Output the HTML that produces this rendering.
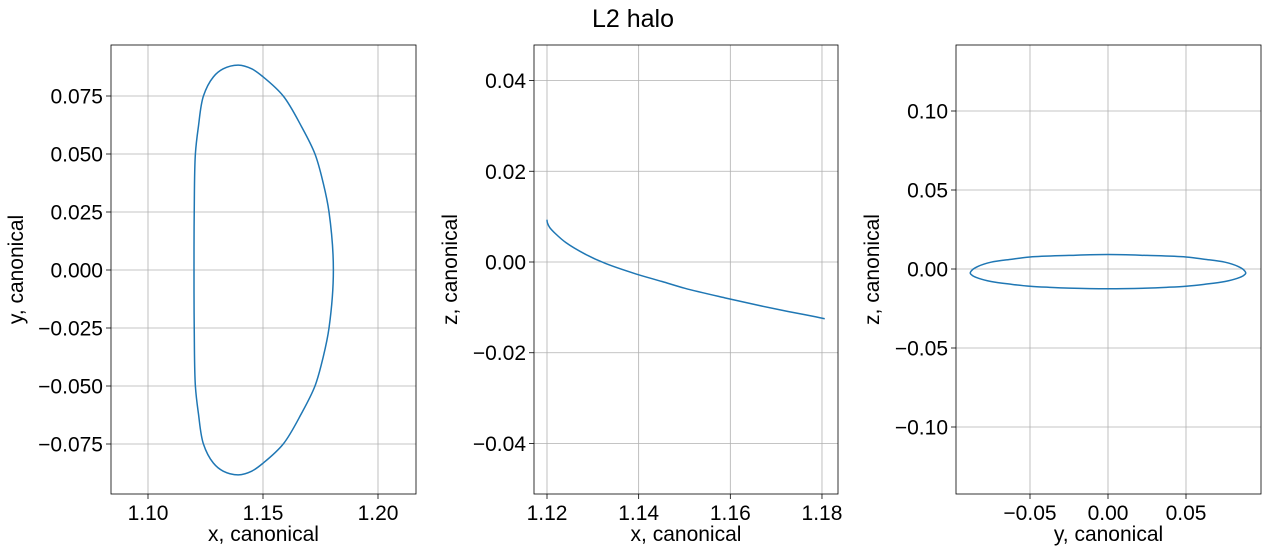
<!DOCTYPE html>
<html><head><meta charset="utf-8"><style>
body{margin:0;background:#fff;}
svg text{font-family:"Liberation Sans","DejaVu Sans",sans-serif;fill:#000;}
</style></head><body>
<svg id="fig" width="1267" height="551" xmlns="http://www.w3.org/2000/svg">
<rect width="1267" height="551" fill="#fff"/>
<text x="633" y="27" font-size="25" text-anchor="middle">L2 halo</text>
</svg>
<script>
// Orbit samples (canonical units)
const orbitX = [1.1806,1.1787,1.1762,1.1726,1.1668,1.1588,1.1501,1.1451,1.1393,1.1327,1.1284,1.1241,1.1219,1.1206,1.1201,1.1200,1.1201,1.1206,1.1219,1.1241,1.1284,1.1327,1.1393,1.1451,1.1501,1.1588,1.1668,1.1726,1.1762,1.1787];
const orbitY = [0,0.025,0.0374,0.050,0.0617,0.075,0.0832,0.0867,0.0883,0.0867,0.0832,0.075,0.0617,0.050,0.025,0,-0.025,-0.050,-0.0617,-0.075,-0.0832,-0.0867,-0.0883,-0.0867,-0.0832,-0.075,-0.0617,-0.050,-0.0374,-0.025];
const orbitZ = [-0.0125,-0.0121,-0.0116,-0.0109,-0.0097,-0.0079,-0.0058,-0.0043,-0.0026,-0.0003,0.0017,0.0043,0.0062,0.0076,0.0086,0.0092,0.0086,0.0076,0.0062,0.0043,0.0017,-0.0003,-0.0026,-0.0043,-0.0058,-0.0079,-0.0097,-0.0109,-0.0116,-0.0121];
const p1xTicks = [1.10,1.15,1.20];
const p1yTicks = [0.075,0.050,0.025,0.000,-0.025,-0.050,-0.075];
const p2xTicks = [1.12,1.14,1.16,1.18];
const p2yTicks = [0.04,0.02,0.00,-0.02,-0.04];
const p3xTicks = [-0.05,0.00,0.05];
const p3yTicks = [0.10,0.05,0.00,-0.05,-0.10];

const NS="http://www.w3.org/2000/svg";
const svg=document.getElementById('fig');
function mk(tag,attrs,parent){const e=document.createElementNS(NS,tag);for(const k in attrs)e.setAttribute(k,attrs[k]);(parent||svg).appendChild(e);return e;}
function fmt(v,d){const s=Math.abs(v).toFixed(d);return (v<-1e-12?'\u2212':'')+s;}

function panel(cfg){
  const g=mk('g',{});
  
  
  const {L,R,T,B}=cfg;
  const sx=v=>cfg.px0+(v-cfg.vx0)*cfg.kx;
  const sy=v=>cfg.py0-(v-cfg.vy0)*cfg.ky;
  cfg.xt.forEach(v=>{const x=sx(v);
    const l=mk('line',{x1:x,x2:x,y1:T,y2:B,stroke:'#b0b0b0','stroke-width':0.8},g);
    
    
    mk('line',{x1:x,x2:x,y1:B,y2:B+5,stroke:'#000','stroke-width':0.8},g);
    const t=mk('text',{x:x,y:B+26,'font-size':21,'text-anchor':'middle'},g);t.textContent=fmt(v,cfg.xd);
    
    
  });
  cfg.yt.forEach(v=>{const y=sy(v);
    const l=mk('line',{x1:L,x2:R,y1:y,y2:y,stroke:'#b0b0b0','stroke-width':0.8},g);
    
    
    mk('line',{x1:L-5,x2:L,y1:y,y2:y,stroke:'#000','stroke-width':0.8},g);
    const t=mk('text',{x:L-8,y:y+7.5,'font-size':21,'text-anchor':'end'},g);t.textContent=fmt(v,cfg.yd);
    
    
  });
  const pts=cfg.xs.map((v,i)=>[sx(v),sy(cfg.ys[i])]);
  const n=pts.length;let d='M'+pts[0][0]+','+pts[0][1];
  const dist=(a,b)=>Math.max(1e-3,Math.sqrt(Math.hypot(a[0]-b[0],a[1]-b[1])));
  for(let i=0;i<n;i++){const p0=pts[(i-1+n)%n],p1=pts[i],p2=pts[(i+1)%n],p3=pts[(i+2)%n];
    const d1=dist(p0,p1),d2=dist(p1,p2),d3=dist(p2,p3);
    const m1=[0,1].map(k=>(p1[k]-p0[k])/d1-(p2[k]-p0[k])/(d1+d2)+(p2[k]-p1[k])/d2);
    const m2=[0,1].map(k=>(p2[k]-p1[k])/d2-(p3[k]-p1[k])/(d2+d3)+(p3[k]-p2[k])/d3);
    const c1=[p1[0]+m1[0]*d2/3,p1[1]+m1[1]*d2/3], c2=[p2[0]-m2[0]*d2/3,p2[1]-m2[1]*d2/3];
    d+=' C'+c1[0]+','+c1[1]+' '+c2[0]+','+c2[1]+' '+p2[0]+','+p2[1];}
  const c=mk('path',{d:d,fill:'none',stroke:'#1f77b4','stroke-width':1.5,'stroke-linejoin':'round'},g);
  
  
  const fr=mk('rect',{x:L,y:T,width:R-L,height:B-T,fill:'none',stroke:'#000','stroke-width':0.8},g);
  
  
  const xl=mk('text',{x:(L+R)/2,y:541,'font-size':21,'text-anchor':'middle'},g);xl.textContent=cfg.xlab;
  
  
  const yx=cfg.ylx,yy=(T+B)/2;
  const yl=mk('text',{x:yx,y:yy,'font-size':21,'text-anchor':'middle',transform:`rotate(-90 ${yx} ${yy})`},g);yl.textContent=cfg.ylab;
  
  
}
panel({name:'xy-panel',L:111,R:416,T:45,B:494,px0:148,vx0:1.10,kx:2300,py0:270,vy0:0,ky:2320,
  xt:p1xTicks,yt:p1yTicks,xd:2,yd:3,xs:orbitX,ys:orbitY,xlab:'x, canonical',ylab:'y, canonical',ylx:23});
panel({name:'xz-panel',L:534,R:838,T:45,B:494,px0:547,vx0:1.12,kx:4583,py0:262,vy0:0,ky:4537,
  xt:p2xTicks,yt:p2yTicks,xd:2,yd:2,xs:orbitX,ys:orbitZ,xlab:'x, canonical',ylab:'z, canonical',ylx:457});
panel({name:'yz-panel',L:956,R:1261,T:45,B:494,px0:1108,vx0:0,kx:1560,py0:269,vy0:0,ky:1580,
  xt:p3xTicks,yt:p3yTicks,xd:2,yd:2,xs:orbitY,ys:orbitZ,xlab:'y, canonical',ylab:'z, canonical',ylx:879});
</script>
</body></html>
